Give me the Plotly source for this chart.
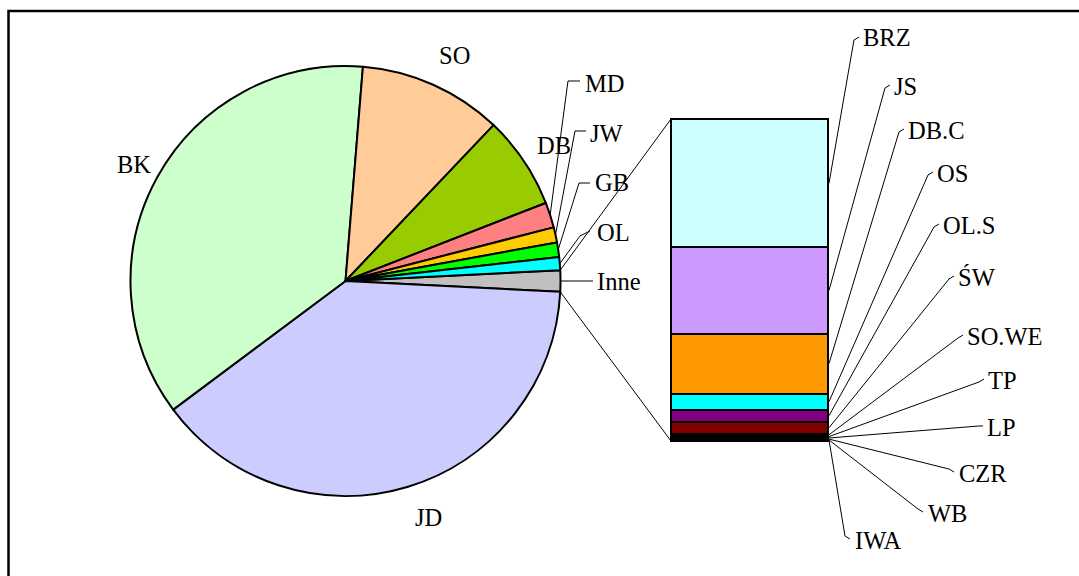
import math
import plotly.graph_objects as go

W, H = 1079, 576

# Main pie: share of each group (the "Inne" slice is the sum of the breakdown below)
pie_labels = ["JD", "BK", "SO", "DB", "MD", "JW", "GB", "OL"]
pie_values = [39.0, 36.5, 10.8, 7.0, 1.9, 1.14, 1.1, 0.97]
pie_colors = ["#CCCCFF", "#CCFFCC", "#FFCC99", "#99CC00", "#FF8080",
              "#FFCC00", "#00FF00", "#00FFFF"]
other_label = "Inne"
other_color = "#C0C0C0"

# Breakdown of "Inne" shown in the stacked bar (top to bottom)
sub_labels = ["BRZ", "JS", "DB.C", "OS", "OL.S", "ŚW",
              "SO.WE", "TP", "LP", "CZR", "WB", "IWA"]
sub_values = [0.64, 0.43, 0.30, 0.08, 0.06, 0.06,
              0.010, 0.008, 0.006, 0.005, 0.004, 0.003]
sub_colors = ["#CCFFFF", "#CC99FF", "#FF9900", "#00FFFF", "#800080", "#800000",
              "#000000", "#000000", "#000000", "#000000", "#000000", "#000000"]

# ---- layout geometry (pixels) ----
CX, CY, R = 345.5, 281.0, 215.0          # pie centre / radius
BX0, BX1, BY0, BY1 = 671, 828, 119, 441   # bar box
FONT = dict(family="Liberation Serif, Times New Roman, serif", size=24.5, color="black")

# label anchors (left edge of text, vertical centre)
pie_label_pos = {"JD": (415, 517), "BK": (117, 164), "SO": (439, 55),
                 "DB": (537, 145), "MD": (585, 83), "JW": (590, 133),
                 "GB": (595, 183), "OL": (597, 233), "Inne": (597, 282)}
# elbow / end points of pie leader lines
pie_leader = {"MD": [(568, 81), (580, 81)], "JW": [(575, 131), (586, 131)],
              "GB": [(579, 183), (590, 183)], "OL": [(580, 236), (590, 231)],
              "Inne": [(593, 281)]}
sub_label_pos = [(863, 38), (894, 86), (908, 130), (937, 173), (943, 225),
                 (958, 277), (967, 336), (988, 380), (987, 427), (959, 473),
                 (928, 513), (855, 540)]


def px(x, y):
    return x / W, 1 - y / H


fig = go.Figure()

# ---- pie ----
other_total = sum(sub_values)
labels = [other_label] + pie_labels
values = [other_total] + pie_values
colors = [other_color] + pie_colors
total = sum(values)
other_deg = other_total / total * 360.0

fig.add_trace(go.Pie(
    labels=labels, values=values, sort=False, direction="clockwise",
    rotation=90 - other_deg / 2,
    marker=dict(colors=colors, line=dict(color="black", width=2)),
    textinfo="none", hoverinfo="label+value", showlegend=False,
    domain=dict(x=[(CX - R) / W, (CX + R) / W],
                y=[1 - (CY + R) / H, 1 - (CY - R) / H]),
))

# slice mid angles (degrees, counter-clockwise from +x)
mid_angle = {}
start = other_deg / 2
for lab, v in zip(labels, values):
    d = v / total * 360.0
    mid_angle[lab] = start - d / 2
    start -= d


def edge_point(angle_deg):
    a = math.radians(angle_deg)
    return CX + R * math.cos(a), CY - R * math.sin(a)


# ---- stacked bar for "Inne" ----
# axis box is padded by PAD px so the bar outline is not clipped
PAD = 4
bar_w = BX1 - BX0
for lab, v, c in reversed(list(zip(sub_labels, sub_values, sub_colors))):
    fig.add_trace(go.Bar(
        x=[0], y=[v], width=1, name=lab, xaxis="x2", yaxis="y2",
        marker=dict(color=c, line=dict(color="black", width=2)),
        showlegend=False, hoverinfo="name+y",
    ))

shapes = []


def path_shape(points, width=1):
    pts = [px(x, y) for x, y in points]
    d = "M " + " L ".join(f"{x:.5f},{y:.5f}" for x, y in pts)
    return dict(type="path", path=d, xref="paper", yref="paper",
                line=dict(color="black", width=width))


# connector lines from the "Inne" slice to the bar
shapes.append(path_shape([edge_point(other_deg / 2), (BX0, BY0)]))
shapes.append(path_shape([edge_point(-other_deg / 2), (BX0, BY1)]))

# pie leader lines
for lab, pts in pie_leader.items():
    shapes.append(path_shape([edge_point(mid_angle[lab])] + pts))

# bar leader lines
bar_h = BY1 - BY0
cum = 0.0
for lab, v, (lx, ly) in zip(sub_labels, sub_values, sub_label_pos):
    seg_mid = BY0 + (cum + v / 2) / other_total * bar_h
    cum += v
    sy = min(seg_mid, BY1 - 1)
    if ly < sy - 30:
        elbow, end = (lx - 9, ly + 2), (lx - 4, ly - 1)
    elif ly > sy + 30:
        elbow, end = (lx - 10, ly - 4), (lx - 5, ly - 1)
    else:
        elbow, end = (lx - 8, ly - 1), (lx - 4, ly - 1)
    shapes.append(path_shape([(BX1 + 1, sy), elbow, end]))

# chart frame
shapes.append(path_shape([(8.5, 600), (8.5, 11), (1100, 11)], width=2.5))

annotations = []
for lab, (lx, ly) in pie_label_pos.items():
    x, y = px(lx - 2, ly)
    annotations.append(dict(x=x, y=y, xref="paper", yref="paper", text=lab,
                            showarrow=False, xanchor="left", yanchor="middle",
                            font=FONT))
for lab, (lx, ly) in zip(sub_labels, sub_label_pos):
    x, y = px(lx - 2, ly)
    annotations.append(dict(x=x, y=y, xref="paper", yref="paper", text=lab,
                            showarrow=False, xanchor="left", yanchor="middle",
                            font=FONT))

half = 0.5 * (bar_w + 2 * PAD) / bar_w
pad_y = PAD / bar_h * other_total
fig.update_layout(
    width=W, height=H, margin=dict(l=0, r=0, t=0, b=0),
    paper_bgcolor="white", plot_bgcolor="rgba(0,0,0,0)",
    barmode="stack", bargap=0,
    xaxis2=dict(domain=[(BX0 - PAD) / W, (BX1 + PAD) / W], range=[-half, half],
                visible=False, fixedrange=True),
    yaxis2=dict(domain=[1 - (BY1 + PAD) / H, 1 - (BY0 - PAD) / H],
                range=[-pad_y, other_total + pad_y],
                visible=False, fixedrange=True),
    xaxis=dict(visible=False), yaxis=dict(visible=False),
    shapes=shapes, annotations=annotations,
)

fig.write_html("out.html")
